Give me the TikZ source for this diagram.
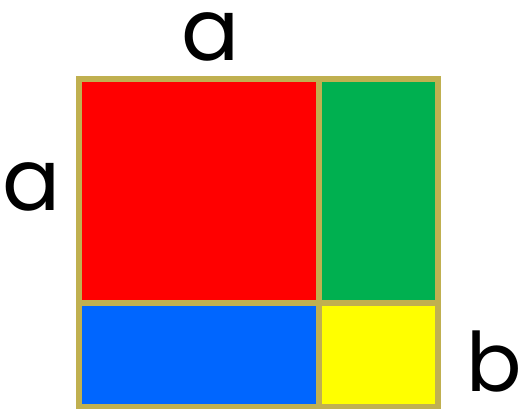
\documentclass[tikz,border=0pt]{standalone}
\usepackage{fontspec}
\setmainfont{Poppins}
\definecolor{bord}{RGB}{192,176,80}
\definecolor{cred}{RGB}{255,0,0}
\definecolor{cgreen}{RGB}{0,176,80}
\definecolor{cblue}{RGB}{0,102,255}
\definecolor{cyellow}{RGB}{255,255,0}
\begin{document}
\begin{tikzpicture}[x=1pt,y=-1pt,
  lbl/.style={inner sep=0pt,font=\fontsize{86}{86}\selectfont},
  edge/.style={draw=bord,line width=6pt}]
\useasboundingbox (0,0) rectangle (527,409);
\fill[cred] (79,79) rectangle (319,303);
\fill[cgreen] (319,79) rectangle (438,303);
\fill[cblue] (79,303) rectangle (319,407);
\fill[cyellow] (319,303) rectangle (438,407);
\draw[edge] (79,79) rectangle (438,407);
\draw[edge] (319,79) -- (319,407);
\draw[edge] (79,303) -- (438,303);
\node[lbl] (atop) at (211,37) {a};
\node[lbl] (aleft) at (32,187) {a};
\node[lbl,font=\fontsize{82}{82}\selectfont] (b) at (494,362) {b};
\end{tikzpicture}
\end{document}
